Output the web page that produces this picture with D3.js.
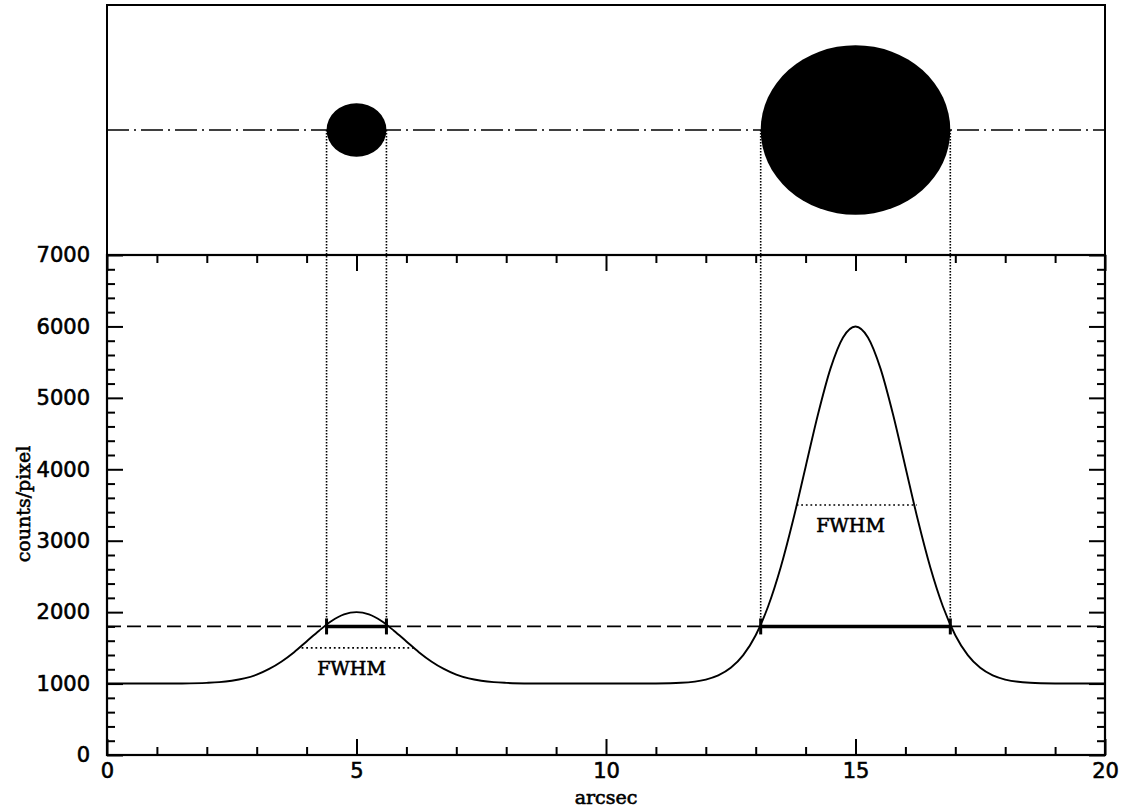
<!DOCTYPE html>
<html>
<head>
<meta charset="utf-8">
<script src="https://cdn.jsdelivr.net/npm/d3@7"></script>
<style>
  body { margin: 0; background: #fff; }
  svg { display: block; }
  .tick text { font-family: "DejaVu Sans", sans-serif; font-size: 21px; fill: #000; stroke: #000; stroke-width: 0.6px; }
  .serif-label { font-family: "DejaVu Serif", serif; font-size: 19px; fill: #000; stroke: #000; stroke-width: 0.6px; }
</style>
</head>
<body>
<div id="chart"></div>
<script>
// profile (arcsec, counts/pixel)
const profileX = [0, 0.5, 1, 1.5, 2, 2.25, 2.5, 2.75, 3, 3.25, 3.5, 3.75, 4, 4.25, 4.5, 4.75,
  5, 5.25, 5.5, 5.75, 6, 6.25, 6.5, 6.75, 7, 7.25, 7.5, 7.75, 8, 8.5, 9, 9.5, 10, 10.5, 11, 11.5,
  12, 12.25, 12.5, 12.75, 13, 13.25, 13.5, 13.75, 14, 14.25, 14.5, 14.75,
  15, 15.25, 15.5, 15.75, 16, 16.25, 16.5, 16.75, 17, 17.25, 17.5, 17.75, 18, 18.5, 19, 19.5, 20];
const profileY = [1000, 1000, 1000, 1002, 1010, 1020, 1040, 1072, 1125, 1205, 1310, 1440, 1590, 1740, 1876, 1968,
  2000, 1968, 1876, 1740, 1590, 1440, 1310, 1205, 1125, 1072, 1040, 1020, 1010, 1002, 1000, 1000, 1000, 1000, 1002, 1011,
  1056, 1114, 1220, 1398, 1677, 2082, 2624, 3289, 4033, 4774, 5413, 5846,
  6000, 5846, 5413, 4774, 4033, 3289, 2624, 2082, 1677, 1398, 1220, 1114, 1056, 1011, 1002, 1000, 1000];

// the two stars in the top panel
const starCentre = [5, 15];
const starRadius = [0.6, 1.9];

// threshold and FWHM markers
const thresholdLevel = 1800;
const fwhmLevel = [1500, 3500];
const fwhmStart = [3.9, 13.82];
const fwhmEnd = [6.15, 16.23];
const fwhmLabelX = [4.9, 14.9];

const xMajorTicks = [0, 5, 10, 15, 20];
const yMajorTicks = [0, 1000, 2000, 3000, 4000, 5000, 6000, 7000];

const WIDTH = 1124;
const HEIGHT = 812;
const LEFT = 107;
const RIGHT = 1105;
const TOP = 5;
const SPLIT = 255;
const BOTTOM = 755;
const MAJOR = 16;
const MINOR = 8;

const svg = d3.select("#chart").append("svg").attr("width", WIDTH).attr("height", HEIGHT);

const x = d3.scaleLinear().domain([0, 20]).range([LEFT, RIGHT]);
const y = d3.scaleLinear().domain([0, 7000]).range([BOTTOM, SPLIT]);
const yTop = d3.scaleLinear().domain([-2.8, 2.8]).range([SPLIT, TOP]);

const xMinorTicks = d3.range(0, 21, 1).filter((v) => !xMajorTicks.includes(v));
const yMinorTicks = d3.range(0, 7001, 200).filter((v) => !yMajorTicks.includes(v));

function styleAxis(g) {
  g.select(".domain").remove();
  g.selectAll(".tick line").attr("stroke", "#000").attr("stroke-width", 2);
}

// bottom axis with labels
svg.append("g")
  .attr("transform", `translate(0,${BOTTOM})`)
  .call(d3.axisBottom(x).tickValues(xMajorTicks).tickSize(-MAJOR).tickPadding(8).tickFormat(d3.format("d")))
  .call(styleAxis);
svg.append("g")
  .attr("transform", `translate(0,${BOTTOM})`)
  .call(d3.axisBottom(x).tickValues(xMinorTicks).tickSize(-MINOR).tickFormat(""))
  .call(styleAxis);

// top edge of lower panel
svg.append("g")
  .attr("transform", `translate(0,${SPLIT})`)
  .call(d3.axisTop(x).tickValues(xMajorTicks).tickSize(-MAJOR).tickFormat(""))
  .call(styleAxis);
svg.append("g")
  .attr("transform", `translate(0,${SPLIT})`)
  .call(d3.axisTop(x).tickValues(xMinorTicks).tickSize(-MINOR).tickFormat(""))
  .call(styleAxis);

// left axis with labels
svg.append("g")
  .attr("transform", `translate(${LEFT},0)`)
  .call(d3.axisLeft(y).tickValues(yMajorTicks).tickSize(-MAJOR).tickPadding(17).tickFormat(d3.format("d")))
  .call(styleAxis);
svg.append("g")
  .attr("transform", `translate(${LEFT},0)`)
  .call(d3.axisLeft(y).tickValues(yMinorTicks).tickSize(-MINOR).tickFormat(""))
  .call(styleAxis);

// right axis
svg.append("g")
  .attr("transform", `translate(${RIGHT},0)`)
  .call(d3.axisRight(y).tickValues(yMajorTicks).tickSize(-MAJOR).tickFormat(""))
  .call(styleAxis);
svg.append("g")
  .attr("transform", `translate(${RIGHT},0)`)
  .call(d3.axisRight(y).tickValues(yMinorTicks).tickSize(-MINOR).tickFormat(""))
  .call(styleAxis);

// frames
svg.append("rect")
  .attr("x", LEFT).attr("y", SPLIT)
  .attr("width", RIGHT - LEFT).attr("height", BOTTOM - SPLIT)
  .attr("fill", "none").attr("stroke", "#000").attr("stroke-width", 2.2);
svg.append("path")
  .attr("d", `M${LEFT},${SPLIT}V${TOP}H${RIGHT}V${SPLIT}`)
  .attr("fill", "none").attr("stroke", "#000").attr("stroke-width", 2);

// dash-dot line through the stars
svg.append("line")
  .attr("x1", x(0)).attr("x2", x(20))
  .attr("y1", yTop(0)).attr("y2", yTop(0))
  .attr("stroke", "#000").attr("stroke-width", 1.6)
  .attr("stroke-dasharray", "22 5 2 5");

// dotted guides from star edges down to threshold
const guideX = starCentre.flatMap((c, i) => [c - starRadius[i], c + starRadius[i]]);
svg.append("g")
  .selectAll("line")
  .data(guideX)
  .join("line")
  .attr("x1", (d) => x(d)).attr("x2", (d) => x(d))
  .attr("y1", yTop(0)).attr("y2", y(thresholdLevel))
  .attr("stroke", "#000").attr("stroke-width", 1.6)
  .attr("stroke-dasharray", "1.5 1.5");

// stars
svg.append("g")
  .selectAll("ellipse")
  .data(starCentre)
  .join("ellipse")
  .attr("cx", (d) => x(d))
  .attr("cy", yTop(0))
  .attr("rx", (d, i) => x(starRadius[i]) - x(0))
  .attr("ry", (d, i) => yTop(0) - yTop(starRadius[i]))
  .attr("fill", "#000");

// dashed threshold line
svg.append("line")
  .attr("x1", x(0)).attr("x2", x(20))
  .attr("y1", y(thresholdLevel)).attr("y2", y(thresholdLevel))
  .attr("stroke", "#000").attr("stroke-width", 1.7)
  .attr("stroke-dasharray", "14 6");

// profile
const profile = profileX.map((v, i) => ({ x: v, y: profileY[i] }));
svg.append("path")
  .datum(profile)
  .attr("fill", "none")
  .attr("stroke", "#000")
  .attr("stroke-width", 1.9)
  .attr("d", d3.line().x((d) => x(d.x)).y((d) => y(d.y)).curve(d3.curveMonotoneX));

// thick bars at threshold with end caps
starCentre.forEach((c, i) => {
  const x0 = x(c - starRadius[i]);
  const x1 = x(c + starRadius[i]);
  const yy = y(thresholdLevel);
  svg.append("line")
    .attr("x1", x0).attr("x2", x1).attr("y1", yy).attr("y2", yy)
    .attr("stroke", "#000").attr("stroke-width", 3.5);
  [x0, x1].forEach((xx) => {
    svg.append("line")
      .attr("x1", xx).attr("x2", xx).attr("y1", yy - 8).attr("y2", yy + 8)
      .attr("stroke", "#000").attr("stroke-width", 3);
  });
});

// FWHM markers
fwhmLevel.forEach((level, i) => {
  svg.append("line")
    .attr("x1", x(fwhmStart[i])).attr("x2", x(fwhmEnd[i]))
    .attr("y1", y(level)).attr("y2", y(level))
    .attr("stroke", "#000").attr("stroke-width", 1.6)
    .attr("stroke-dasharray", "1.8 2.8");
  svg.append("text")
    .attr("class", "serif-label")
    .attr("x", x(fwhmLabelX[i]))
    .attr("y", y(level) + 27)
    .attr("text-anchor", "middle")
    .text("FWHM");
});

// axis titles
svg.append("text")
  .attr("class", "serif-label")
  .attr("x", (LEFT + RIGHT) / 2)
  .attr("y", 804)
  .attr("text-anchor", "middle")
  .text("arcsec");

svg.append("text")
  .attr("class", "serif-label")
  .attr("transform", "rotate(-90)")
  .attr("x", -504)
  .attr("y", 30)
  .attr("text-anchor", "middle")
  .text("counts/pixel");
</script>
</body>
</html>
